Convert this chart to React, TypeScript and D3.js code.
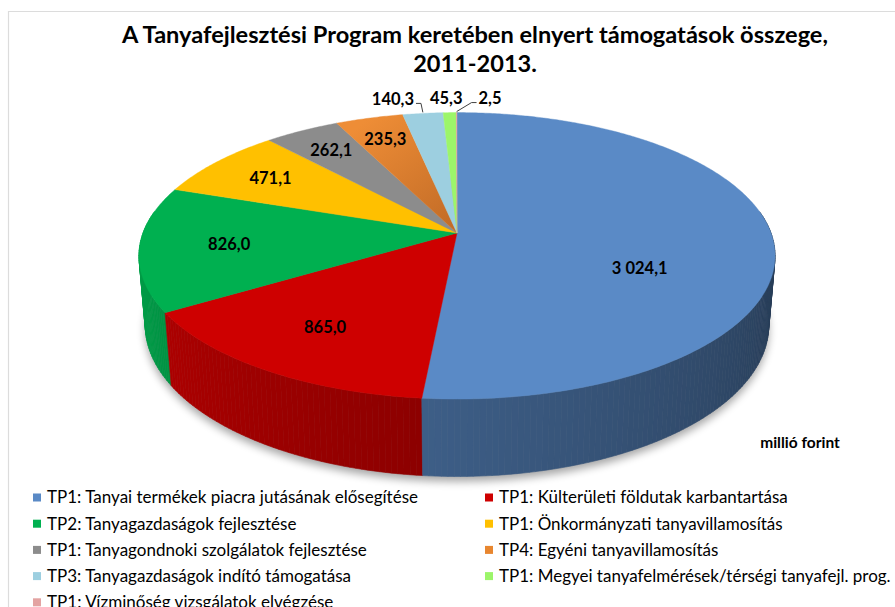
import React from "react";
import * as d3 from "d3";

const title1 = "A Tanyafejlesztési Program keretében elnyert támogatások összege,";
const title2 = "2011-2013.";
const unitLabel = "millió forint";

const categories = [
  "TP1: Tanyai termékek piacra jutásának elősegítése",
  "TP1: Külterületi földutak karbantartása",
  "TP2: Tanyagazdaságok fejlesztése",
  "TP1: Önkormányzati tanyavillamosítás",
  "TP1: Tanyagondnoki szolgálatok fejlesztése",
  "TP4: Egyéni tanyavillamosítás",
  "TP3: Tanyagazdaságok indító támogatása",
  "TP1: Megyei tanyafelmérések/térségi tanyafejl. prog.",
  "TP1: Vízminőség vizsgálatok elvégzése",
];
const values = [3024.1, 865.0, 826.0, 471.1, 262.1, 235.3, 140.3, 45.3, 2.5];
const colors = [
  "#5A8AC6",
  "#CE0000",
  "#00B050",
  "#FFC000",
  "#8C8C8C",
  "#E8862F",
  "#9DCFE0",
  "#9CF56A",
  "#E3A3A2",
];

const W = 895;
const H = 607;
const FONT = "Lato, 'Liberation Sans', sans-serif";

const CX = 457;
const CY = 233;
const R = 314;
const DEPTH = 78;
const TILT = (26.4 * Math.PI) / 180;
const FOCAL = 1766;

const huLocale = d3.formatLocale({
  decimal: ",",
  thousands: " ",
  grouping: [3],
  currency: ["", ""],
});
const fmt = huLocale.format(",.1f");

function project(theta: number, rf: number, y: number): [number, number, number] {
  const X = rf * R * Math.sin(theta);
  const Z = -rf * R * Math.cos(theta);
  const yp = y * Math.cos(TILT) - Z * Math.sin(TILT);
  const zp = y * Math.sin(TILT) + Z * Math.cos(TILT);
  const s = FOCAL / (FOCAL - zp);
  return [CX + X * s, CY - yp * s, zp];
}

let measureCtx: CanvasRenderingContext2D | null = null;
function measure(text: string, font: string): number {
  if (!measureCtx) {
    const c = document.createElement("canvas");
    measureCtx = c.getContext("2d");
  }
  if (!measureCtx) return text.length * 8;
  measureCtx.font = font;
  return measureCtx.measureText(text).width;
}

function shade(color: string, f: number): string {
  const c = d3.rgb(color);
  return d3.rgb(c.r * f, c.g * f, c.b * f).formatHex();
}

export default function App() {
  const total = d3.sum(values);
  const arcs = d3
    .pie<number>()
    .sort(null)
    .startAngle(0)
    .endAngle(2 * Math.PI)(values);

  const step = Math.PI / 360;

  const topPaths = arcs.map((a) => {
    const pts: [number, number][] = [[CX, CY]];
    const n = Math.max(2, Math.ceil((a.endAngle - a.startAngle) / step));
    for (let k = 0; k <= n; k++) {
      const t = a.startAngle + ((a.endAngle - a.startAngle) * k) / n;
      const p = project(t, 1, 0);
      pts.push([p[0], p[1]]);
    }
    return d3.line()(pts) + "Z";
  });

  type Quad = { i: number; d: string; depth: number; fill: string };
  const quads: Quad[] = [];
  const wallLo = Math.PI * 0.45;
  const wallHi = Math.PI * 1.55;
  arcs.forEach((a, i) => {
    const lo = Math.max(a.startAngle, wallLo);
    const hi = Math.min(a.endAngle, wallHi);
    if (hi <= lo) return;
    const n = Math.max(1, Math.ceil((hi - lo) / (Math.PI / 180)));
    for (let k = 0; k < n; k++) {
      const t0 = lo + ((hi - lo) * k) / n;
      const t1 = lo + ((hi - lo) * (k + 1)) / n;
      const p0 = project(t0, 1, 0);
      const p1 = project(t1, 1, 0);
      const p2 = project(t1, 1, -DEPTH);
      const p3 = project(t0, 1, -DEPTH);
      const mid = project((t0 + t1) / 2, 1, 0);
      const deg = (((t0 + t1) / 2) * 180) / Math.PI;
      const f = Math.max(0.36, Math.min(0.95, 0.42 + (deg - 95) * 0.0029));
      quads.push({
        i,
        d: `M${p0[0]},${p0[1]}L${p1[0]},${p1[1]}L${p2[0]},${p2[1]}L${p3[0]},${p3[1]}Z`,
        depth: mid[2],
        fill: shade(colors[i], f),
      });
    }
  });
  quads.sort((a, b) => a.depth - b.depth);

  const shadowPts: [number, number][] = [];
  for (let k = 0; k <= 360; k++) {
    const t = (k * Math.PI) / 180;
    const p = project(t, 1, -DEPTH);
    shadowPts.push([p[0], p[1]]);
  }
  const shadowPath = d3.line()(shadowPts) + "Z";

  const labelSize = 16.5;
  const labelFont = `bold ${labelSize}px ${FONT}`;
  type Lab = { text: string; x: number; y: number; w: number; px: number; py: number; outside: boolean };
  const labels: Lab[] = arcs.map((a, i) => {
    const frac = values[i] / total;
    const mid = (a.startAngle + a.endAngle) / 2;
    const text = fmt(values[i]);
    const w = measure(text, labelFont);
    if (frac >= 0.03) {
      const rf = 0.58 + 0.3 * (1 - Math.sqrt(Math.min(1, 2 * frac)));
      const p = project(mid, rf, 0);
      const yShift = 0.4 * DEPTH * Math.max(0, Math.sin(mid));
      return { text, x: p[0], y: p[1] + yShift, w, px: p[0], py: p[1], outside: false };
    }
    const p = project(mid, 1, 0);
    return { text, x: p[0], y: p[1] - 14, w, px: p[0], py: p[1], outside: true };
  });
  const outs = labels.filter((l) => l.outside).sort((a, b) => a.x - b.x);
  const gap = 16;
  for (let it = 0; it < 200; it++) {
    let moved = false;
    for (let k = 0; k < outs.length - 1; k++) {
      const a = outs[k];
      const b = outs[k + 1];
      const need = a.w / 2 + b.w / 2 + gap - (b.x - a.x);
      if (need > 0.01) {
        a.x -= need / 2;
        b.x += need / 2;
        moved = true;
      }
    }
    if (!moved) break;
  }

  // title sizing
  const titleSize = 23.5;
  const titleFont = `bold ${titleSize}px ${FONT}`;
  const titleTarget = 706;
  const titleRatio = titleTarget / measure(title1, titleFont);

  // legend sizing
  const legendSize = 17;
  const legendFont = `${legendSize}px ${FONT}`;
  const legendRatio = 371 / measure(categories[0], legendFont);

  const legendX = [33, 485];
  const legendY0 = 497.5;
  const legendDy = 26.2;

  return (
    <svg
      width={W}
      height={H}
      viewBox={`0 0 ${W} ${H}`}
      style={{ position: "absolute", left: 0, top: 0, background: "#fff" }}
    >
      <defs>
        <filter id="shadowBlur" x="-20%" y="-20%" width="140%" height="140%">
          <feGaussianBlur stdDeviation="4" />
        </filter>
        <linearGradient
          id="orangeGrad"
          gradientUnits="userSpaceOnUse"
          x1={project((arcs[5].startAngle + arcs[5].endAngle) / 2, 1, 0)[0]}
          y1={project((arcs[5].startAngle + arcs[5].endAngle) / 2, 1, 0)[1]}
          x2={CX}
          y2={CY}
        >
          <stop offset="0" stopColor="#EE8D36" />
          <stop offset="1" stopColor="#C06A26" />
        </linearGradient>
      </defs>
      <rect x={0} y={0} width={W} height={H} fill="#fff" />
      <line x1={8} y1={11.5} x2={W} y2={11.5} stroke="#DCDCDC" strokeWidth={1.2} />
      <line x1={8.5} y1={11} x2={8.5} y2={H} stroke="#DCDCDC" strokeWidth={1.2} />

      <text
        x={475}
        y={43}
        textAnchor="middle"
        fontFamily={FONT}
        fontWeight="bold"
        fontSize={titleSize}
        fill="#000"
        textLength={titleTarget}
        lengthAdjust="spacingAndGlyphs"
      >
        {title1}
      </text>
      <text
        x={475}
        y={72}
        textAnchor="middle"
        fontFamily={FONT}
        fontWeight="bold"
        fontSize={titleSize}
        fill="#000"
        textLength={measure(title2, titleFont) * titleRatio}
        lengthAdjust="spacingAndGlyphs"
      >
        {title2}
      </text>

      <path d={shadowPath} transform="translate(0,5)" fill="#000" opacity={0.35} filter="url(#shadowBlur)" />

      {quads.map((q, k) => (
        <path key={"q" + k} d={q.d} fill={q.fill} stroke={q.fill} strokeWidth={0.6} />
      ))}

      {topPaths.map((d, i) => (
        <path
          key={"t" + i}
          d={d}
          fill={i === 5 ? "url(#orangeGrad)" : colors[i]}
          stroke={colors[i]}
          strokeWidth={0.4}
        />
      ))}

      {labels.map((l, i) => {
        const parts: JSX.Element[] = [];
        if (l.outside) {
          const left = l.x - l.w / 2;
          const right = l.x + l.w / 2;
          if (l.px > right || l.px < left) {
            const toRight = l.px > right;
            const sx = toRight ? right + 2 : left - 2;
            const hx = toRight ? sx + 5 : sx - 5;
            const ly = l.y + 4;
            parts.push(
              <polyline
                key={"ld" + i}
                points={`${sx},${ly} ${hx},${ly} ${l.px},${l.py - 1}`}
                fill="none"
                stroke="#404040"
                strokeWidth={1}
              />
            );
          }
        }
        parts.push(
          <text
            key={"lb" + i}
            x={l.x}
            y={l.y}
            dy="0.35em"
            textAnchor="middle"
            fontFamily={FONT}
            fontWeight="bold"
            fontSize={labelSize}
            fill="#000"
          >
            {l.text}
          </text>
        );
        return <g key={"lg" + i}>{parts}</g>;
      })}

      <text x={800} y={443} dy="0.35em" textAnchor="middle" fontFamily={FONT} fontWeight="bold" fontSize={15.5} fill="#000">
        {unitLabel}
      </text>

      {categories.map((c, i) => {
        const col = i % 2;
        const row = Math.floor(i / 2);
        const y = legendY0 + row * legendDy;
        return (
          <g key={"lgd" + i}>
            <rect x={legendX[col]} y={y - 4} width={8} height={8} fill={colors[i]} />
            <text
              x={legendX[col] + 14}
              y={y}
              dy="0.35em"
              fontFamily={FONT}
              fontSize={legendSize}
              fill="#000"
              textLength={measure(c, legendFont) * legendRatio}
              lengthAdjust="spacingAndGlyphs"
            >
              {c}
            </text>
          </g>
        );
      })}
    </svg>
  );
}
